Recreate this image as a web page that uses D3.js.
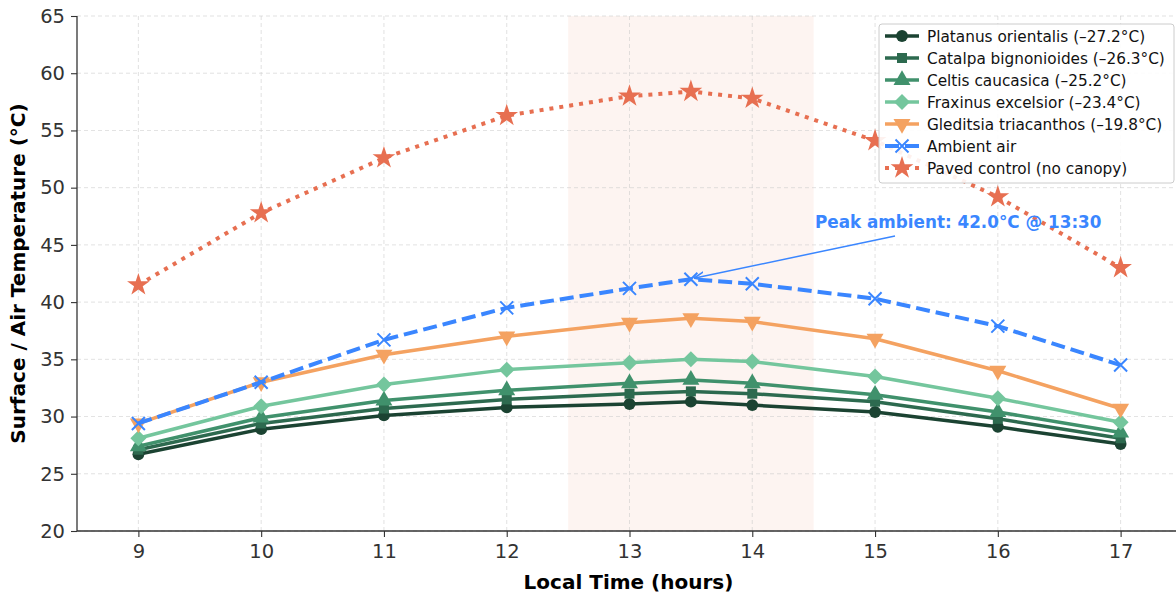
<!DOCTYPE html>
<html>
<head>
<meta charset="utf-8">
<script src="https://cdn.jsdelivr.net/npm/d3@7"></script>
<style>
  body { margin: 0; background: #fff; }
  svg { font-family: "DejaVu Sans", sans-serif; }
</style>
</head>
<body>
<svg id="chart" width="1176" height="597"></svg>
<script>
// hours of measurement
var hours = [9, 10, 11, 12, 13, 13.5, 14, 15, 16, 17];

var platanus  = [26.7, 28.9, 30.1, 30.8, 31.1, 31.3, 31.0, 30.4, 29.1, 27.6];
var catalpa   = [27.1, 29.4, 30.7, 31.5, 32.0, 32.2, 32.0, 31.3, 29.8, 28.1];
var celtis    = [27.4, 29.9, 31.4, 32.3, 32.9, 33.2, 32.9, 31.9, 30.4, 28.6];
var fraxinus  = [28.1, 30.9, 32.8, 34.1, 34.7, 35.0, 34.8, 33.5, 31.6, 29.5];
var gleditsia = [29.4, 33.0, 35.4, 37.0, 38.2, 38.6, 38.3, 36.8, 34.0, 30.7];
var ambient   = [29.4, 33.0, 36.7, 39.5, 41.2, 42.0, 41.6, 40.3, 37.9, 34.5];
var paved     = [41.5, 47.8, 52.6, 56.3, 58.0, 58.4, 57.8, 54.1, 49.2, 43.0];

var seriesNames = [
  "Platanus orientalis (\u201327.2\u00b0C)",
  "Catalpa bignonioides (\u201326.3\u00b0C)",
  "Celtis caucasica (\u201325.2\u00b0C)",
  "Fraxinus excelsior (\u201323.4\u00b0C)",
  "Gleditsia triacanthos (\u201319.8\u00b0C)",
  "Ambient air",
  "Paved control (no canopy)"
];
var xTicks = [9, 10, 11, 12, 13, 14, 15, 16, 17];
var yTicks = [20, 25, 30, 35, 40, 45, 50, 55, 60, 65];
var heatWindow = [12.5, 14.5];

var series = [
  {name: seriesNames[0], values: platanus,  color: "#1b4332", marker: "circle",  dash: null},
  {name: seriesNames[1], values: catalpa,   color: "#2d6a4f", marker: "square",  dash: null},
  {name: seriesNames[2], values: celtis,    color: "#40916c", marker: "triup",   dash: null},
  {name: seriesNames[3], values: fraxinus,  color: "#74c69d", marker: "diamond", dash: null},
  {name: seriesNames[4], values: gleditsia, color: "#f4a261", marker: "tridown", dash: null},
  {name: seriesNames[5], values: ambient,   color: "#3a86ff", marker: "x",       dash: "14,6"},
  {name: seriesNames[6], values: paved,     color: "#e76f51", marker: "star",    dash: "4,6"}
];

var svg = d3.select("#chart");
var pL = 77, pR = 1182, pT = 16, pB = 531;

var x = d3.scaleLinear().domain([8.5, 17.5]).range([pL, pR]);
var y = d3.scaleLinear().domain([20, 65]).range([pB, pT]);

// shaded peak window
svg.append("rect")
  .attr("x", x(heatWindow[0]))
  .attr("y", pT)
  .attr("width", x(heatWindow[1]) - x(heatWindow[0]))
  .attr("height", pB - pT)
  .attr("fill", "#e76f51")
  .attr("opacity", 0.08);

// grid
var grid = svg.append("g");
grid.selectAll(".gx").data(xTicks).enter().append("line")
  .attr("x1", d => x(d)).attr("x2", d => x(d))
  .attr("y1", pT).attr("y2", pB)
  .attr("stroke", "#ccc").attr("stroke-dasharray", "4,3").attr("stroke-width", 0.8).attr("opacity", 0.7);
grid.selectAll(".gy").data(yTicks).enter().append("line")
  .attr("x1", pL).attr("x2", pR)
  .attr("y1", d => y(d)).attr("y2", d => y(d))
  .attr("stroke", "#ccc").attr("stroke-dasharray", "4,3").attr("stroke-width", 0.8).attr("opacity", 0.7);

// axes
var xAxis = svg.append("g").attr("transform", "translate(0," + pB + ")")
  .call(d3.axisBottom(x).tickValues(xTicks).tickSize(6).tickPadding(7).tickFormat(d3.format("d")));
var yAxis = svg.append("g").attr("transform", "translate(" + pL + ",0)")
  .call(d3.axisLeft(y).tickValues(yTicks).tickSize(6).tickPadding(6).tickFormat(d3.format("d")));
[xAxis, yAxis].forEach(function(a) {
  a.attr("font-family", null).attr("font-size", null);
  a.select(".domain").attr("stroke", "#333").attr("stroke-width", 1.3);
  a.selectAll(".tick line").attr("stroke", "#333").attr("stroke-width", 1.1);
  a.selectAll(".tick text").attr("fill", "#333").style("font-size", "19.5px");
});
xAxis.select(".domain").attr("d", "M" + pL + ",0H" + pR);
yAxis.select(".domain").attr("d", "M0," + pB + "V" + pT);

svg.append("text")
  .attr("x", (pL + pR) / 2 - 1).attr("y", 589)
  .attr("text-anchor", "middle")
  .style("font-size", "20px").style("font-weight", "bold")
  .text("Local Time (hours)");
svg.append("text")
  .attr("transform", "translate(25," + ((pT + pB) / 2) + ") rotate(-90)")
  .attr("text-anchor", "middle")
  .style("font-size", "20px").style("font-weight", "bold")
  .text("Surface / Air Temperature (\u00b0C)");

function markerPath(type) {
  switch (type) {
    case "circle":  return d3.symbol(d3.symbolCircle, 110)();
    case "square":  return d3.symbol(d3.symbolSquare, 100)();
    case "triup":   return d3.symbol(d3.symbolTriangle, 125)();
    case "tridown": return d3.symbol(d3.symbolTriangle, 125)();
    case "diamond": return "M0,-8L8,0L0,8L-8,0Z";
    case "x":       return "M-6.5,-6.5L6.5,6.5M-6.5,6.5L6.5,-6.5";
    case "star":    return d3.symbol(d3.symbolStar, 160)();
  }
}

function drawMarker(g, s, cx, cy) {
  var p = g.append("path")
    .attr("d", markerPath(s.marker))
    .attr("transform", "translate(" + cx + "," + cy + ")" + (s.marker === "tridown" ? " rotate(180)" : ""));
  if (s.marker === "x") {
    p.attr("fill", "none").attr("stroke", s.color).attr("stroke-width", 2);
  } else {
    p.attr("fill", s.color);
  }
}

var line = d3.line().x(d => x(d[0])).y(d => y(d[1]));

series.forEach(function(s) {
  var pts = hours.map((h, i) => [h, s.values[i]]);
  var g = svg.append("g");
  g.append("path")
    .datum(pts)
    .attr("d", line)
    .attr("fill", "none")
    .attr("stroke", s.color)
    .attr("stroke-width", s.dash ? 4 : 3.5)
    .attr("stroke-dasharray", s.dash)
    .attr("stroke-linejoin", "round");
  pts.forEach(p => drawMarker(g, s, x(p[0]), y(p[1])));
});

// annotation
var peakIdx = ambient.indexOf(d3.max(ambient));
var px = x(hours[peakIdx]), py = y(ambient[peakIdx]);
svg.append("defs").append("marker")
  .attr("id", "arrow").attr("viewBox", "0 0 10 10")
  .attr("refX", 10).attr("refY", 5)
  .attr("markerWidth", 7).attr("markerHeight", 7)
  .attr("orient", "auto-start-reverse")
  .append("path").attr("d", "M0,1L10,5L0,9").attr("fill", "none")
  .attr("stroke", "#3a86ff").attr("stroke-width", 1.5);
svg.append("line")
  .attr("x1", 895).attr("y1", 236)
  .attr("x2", px + 3).attr("y2", py - 1)
  .attr("stroke", "#3a86ff").attr("stroke-width", 1.5)
  .attr("marker-end", "url(#arrow)");
svg.append("text")
  .attr("x", 815).attr("y", 228)
  .attr("fill", "#3a86ff")
  .style("font-size", "16.8px").style("font-weight", "bold")
  .text("Peak ambient: " + ambient[peakIdx].toFixed(1) + "\u00b0C @ 13:30");

// legend
var lg = svg.append("g").attr("transform", "translate(879,24)");
lg.append("rect")
  .attr("width", 295).attr("height", 159).attr("rx", 3)
  .attr("fill", "#fff").attr("fill-opacity", 0.9)
  .attr("stroke", "#ccc").attr("stroke-width", 1);
series.forEach(function(s, i) {
  var ry = 12 + i * 22;
  var row = lg.append("g");
  row.append("line")
    .attr("x1", 6).attr("x2", 40).attr("y1", ry).attr("y2", ry)
    .attr("stroke", s.color).attr("stroke-width", s.dash ? 4 : 3.5)
    .attr("stroke-dasharray", s.dash);
  drawMarker(row, s, 23, ry);
  row.append("text")
    .attr("x", 48).attr("y", ry + 5.5)
    .attr("fill", "#111")
    .style("font-size", "15.3px")
    .text(s.name);
});
</script>
</body>
</html>
